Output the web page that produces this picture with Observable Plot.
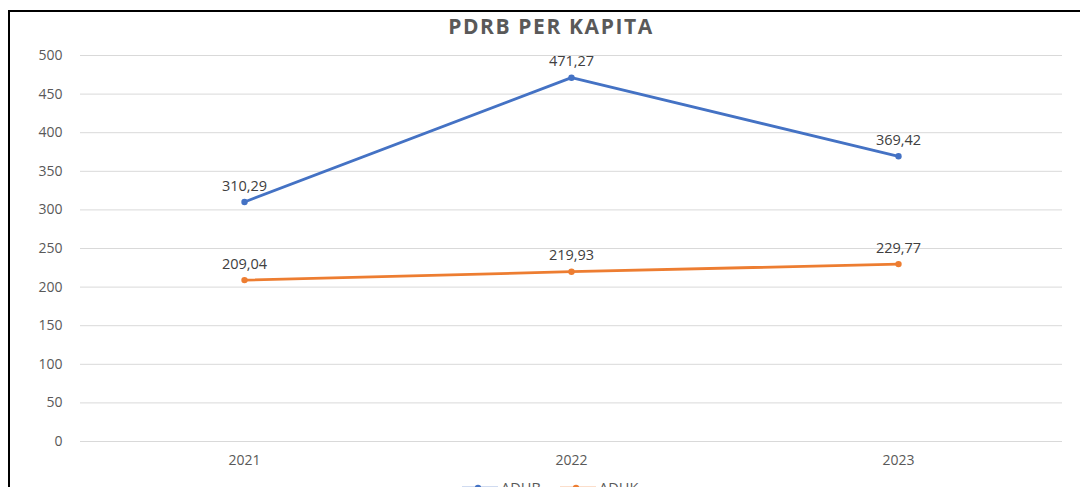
<!DOCTYPE html>
<html>
<head>
<meta charset="utf-8">
<script src="https://cdn.jsdelivr.net/npm/d3@7"></script>
<script src="https://cdn.jsdelivr.net/npm/@observablehq/plot@0.6"></script>
<style>
html, body { margin: 0; padding: 0; width: 1080px; height: 487px; overflow: hidden; background: #fff; }
#frame { position: absolute; left: 8px; top: 10px; width: 1080px; height: 490px; border-top: 2px solid #000; border-left: 2px solid #000; }
#title { position: absolute; left: 0; top: 12px; width: 1102px; text-align: center; font-family: "Open Sans", sans-serif; font-weight: 700; font-size: 21px; color: #595959; letter-spacing: 1.6px; }
#chart { position: absolute; left: 0; top: 0; }
#legend { position: absolute; left: 0; top: 478px; width: 1080px; font-family: "Open Sans", sans-serif; font-size: 14.5px; color: #595959; }
.item { position: absolute; top: 0; display: flex; align-items: center; }
</style>
</head>
<body>
<div id="frame"></div>
<div id="chart"></div>
<div id="title">PDRB PER KAPITA</div>
<div id="legend"></div>
<script>
const years = ["2021", "2022", "2023"];
const seriesNames = ["ADHB", "ADHK"];
const adhb = [310.29, 471.27, 369.42];
const adhk = [209.04, 219.93, 229.77];
const yTicks = [0, 50, 100, 150, 200, 250, 300, 350, 400, 450, 500];
const colors = ["#4472C4", "#ED7D31"];

const data = [];
years.forEach((y, i) => {
  data.push({year: y, series: seriesNames[0], value: adhb[i]});
  data.push({year: y, series: seriesNames[1], value: adhk[i]});
});
const fmt = v => v.toFixed(2).replace(".", ",");

const plot = Plot.plot({
  width: 1080,
  height: 475,
  marginTop: 55,
  marginBottom: 34,
  marginLeft: 80,
  marginRight: 18,
  style: {fontFamily: "'Open Sans', sans-serif", fontSize: "13.5px", color: "#595959", background: "transparent"},
  x: {type: "point", domain: years, padding: 0.5, label: null},
  y: {domain: [0, 500], ticks: yTicks, label: null},
  color: {domain: seriesNames, range: colors},
  marks: [
    Plot.gridY(yTicks, {stroke: "#D9D9D9", strokeOpacity: 1, strokeWidth: 1}),
    Plot.axisY(yTicks, {tickSize: 0, tickPadding: 18, fill: "#595959", fontSize: 14, label: null}),
    Plot.axisX({tickSize: 0, tickPadding: 14, fill: "#595959", fontSize: 14, label: null}),
    Plot.line(data, {x: "year", y: "value", z: "series", stroke: "series", strokeWidth: 2.8}),
    Plot.dot(data, {x: "year", y: "value", fill: "series", r: 3.2}),
    Plot.text(data, {x: "year", y: "value", text: d => fmt(d.value), dy: -16, fill: "#404040", fontSize: 14.5})
  ]
});
document.getElementById("chart").appendChild(plot);

const legend = document.getElementById("legend");
const lx = [462, 560];
seriesNames.forEach((name, i) => {
  const item = document.createElement("div");
  item.className = "item";
  item.style.left = lx[i] + "px";
  item.innerHTML = `<svg width="37" height="16"><line x1="0" y1="8" x2="36" y2="8" stroke="${colors[i]}" stroke-width="2.6"/><circle cx="16" cy="8" r="3.2" fill="${colors[i]}"/></svg><span style="margin-left:2px">${name}</span>`;
  legend.appendChild(item);
});
</script>
</body>
</html>
